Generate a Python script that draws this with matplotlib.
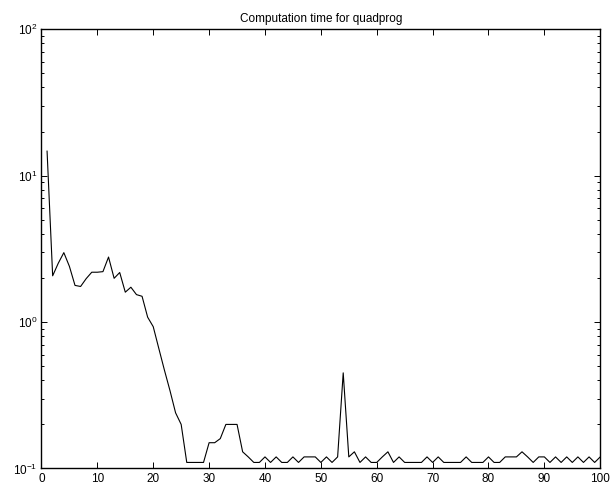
import matplotlib.pyplot as plt
from matplotlib.ticker import LogLocator, NullFormatter

plt.rcParams['font.family'] = ['Liberation Sans', 'DejaVu Sans']
plt.rcParams['mathtext.fontset'] = 'custom'
plt.rcParams['mathtext.rm'] = 'Liberation Sans'
plt.rcParams['mathtext.it'] = 'Liberation Sans'

# Problem index and quadprog time (s)
problem = list(range(1, 101))
comp_time = [
    14.7, 2.07, 2.52, 2.98, 2.40, 1.78, 1.75, 1.98, 2.19, 2.19,
    2.21, 2.78, 1.99, 2.18, 1.60, 1.73, 1.54, 1.50, 1.08, 0.93,
    0.66, 0.47, 0.34, 0.24, 0.20, 0.11, 0.11, 0.11, 0.11, 0.15,
    0.15, 0.16, 0.20, 0.20, 0.20, 0.13, 0.12, 0.11, 0.11, 0.12,
    0.11, 0.12, 0.11, 0.11, 0.12, 0.11, 0.12, 0.12, 0.12, 0.11,
    0.12, 0.11, 0.12, 0.45, 0.12, 0.13, 0.11, 0.12, 0.11, 0.11,
    0.12, 0.13, 0.11, 0.12, 0.11, 0.11, 0.11, 0.11, 0.12, 0.11,
    0.12, 0.11, 0.11, 0.11, 0.11, 0.12, 0.11, 0.11, 0.11, 0.12,
    0.11, 0.11, 0.12, 0.12, 0.12, 0.13, 0.12, 0.11, 0.12, 0.12,
    0.11, 0.12, 0.11, 0.12, 0.11, 0.12, 0.11, 0.12, 0.11, 0.12,
]
x_ticks = list(range(0, 101, 10))

fig = plt.figure(figsize=(6.1, 4.87), dpi=100)
ax = fig.add_axes([0.068, 0.038, 0.916, 0.902])

ax.plot(problem, comp_time, color='black', linewidth=0.8)

ax.set_yscale('log')
ax.set_xlim(0, 100)
ax.set_ylim(0.1, 100)
ax.set_xticks(x_ticks)
ax.yaxis.set_major_locator(LogLocator(base=10))
ax.yaxis.set_minor_locator(LogLocator(base=10, subs=range(2, 10)))
ax.yaxis.set_minor_formatter(NullFormatter())

ax.set_title("Computation time for quadprog", fontsize=8.5, pad=5)
ax.tick_params(which='both', direction='in', top=True, right=True,
               labelsize=8.5, width=0.7)
ax.tick_params(which='major', length=4, pad=3)
ax.tick_params(which='minor', length=2.2)
for s in ax.spines.values():
    s.set_linewidth(1.0)

fig.savefig('out.png', dpi=100)
